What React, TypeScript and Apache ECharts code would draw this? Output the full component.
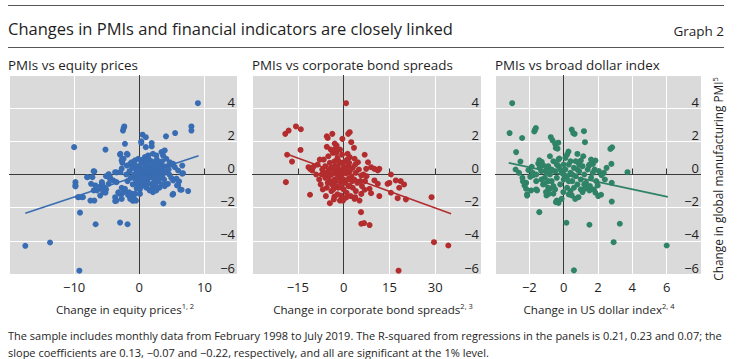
import React, { useEffect, useRef } from 'react';
import * as echarts from 'echarts';

const FONT = "'Open Sans', 'Noto Sans', sans-serif";

const yRange = [-6, 6, 2];
const xRanges = [
  [-20, 15, 10],
  [-30, 45, 15],
  [-4, 8, 2],
];

const panelTitles = ['PMIs vs equity prices', 'PMIs vs corporate bond spreads', 'PMIs vs broad dollar index'];
const xNames = ['Change in equity prices', 'Change in corporate bond spreads', 'Change in US dollar index'];
const xNameNotes = ['1, 2', '2, 3', '2, 4'];
const yName = 'Change in global manufacturing PMI';
const yNameNote = '5';
const colors = ['#386cb3', '#b32d2e', '#2f8366'];

const equityPoints: number[][] = [
  [9.0, 4.3], [8.0, 2.9], [8.0, 2.65], [5.5, 2.5], [4.1, 2.3], [-10, 1.65], [-5.2, 1.5],
  [-2.4, 2.8], [-2.3, 2.9], [-2.5, 2.65], [-2.2, 1.85], [0.5, 2.4], [1.0, 2.25], [0.3, 2.0], [0.3, 1.9], [1.9, 1.9], [1.9, 1.7], [1.0, 1.65],
  [-2.95, 1.2], [-1.8, 1.2], [-2.6, 0.95], [-2.6, 0.7],
  [-17.5, -4.3], [-13.7, -4.1], [-9.2, -5.8], [-6.7, -3.0], [-2.95, -2.9], [-1.8, -3.0], [-9.1, -2.3], [3.7, -1.75], [7.5, -1.0], [6.6, 0.05], [5.1, -1.22], [6.3, -0.92], [5.8, -0.66], [6.1, -0.42],
  [-9.8, -0.46], [-9.8, -0.72], [-9.4, -1.37], [-8.65, -1.37], [-6.9, -1.57], [-7.95, -0.16], [-7.2, -0.16], [-6.9, 0.18], [-7.4, -0.56], [-6.5, -0.96], [-6.0, -1.27], [-6.0, -0.73], [-5.7, -0.54], [-5.5, -0.74], [-5.1, -0.9], [-5.2, -1.1], [-5.1, -0.1], [-4.7, 0.02], [-4.5, -0.16], [-3.45, 0.12], [-3.7, -1.6], [-3.2, -1.1], [-2.95, -1.17], [-2.4, -1.07], [-2.7, -0.8], [-2.2, -1.0], [-1.7, -1.25], [-2.7, -1.47], [-1.4, -1.47], [-0.9, -1.57], [-1.2, -1.25], [-0.65, -1.17], [0.08, -0.9], [-0.4, -0.6], [1.1, -0.8], [1.6, -0.93], [2.1, -1.07], [2.6, -0.9], [3.1, -0.8], [3.9, -0.7], [4.4, -0.56], [5.2, -0.36], [5.7, -0.24],
  [-7.0, 0.2], [-3.7, 0.14], [-2.9, 0.14], [-2.7, 0.35],
  [-2.9, 1.25], [-1.9, 1.25], [-2.4, 0.95], [-2.7, 0.85], [-1.9, 0.54], [-1.4, 0.64], [-1.2, 0.74],
  [-0.66, 0.85], [-0.15, 0.95], [0.35, 0.85], [0.86, 1.05], [1.37, 1.15], [2.1, 1.25], [2.6, 1.15], [3.4, 1.35], [3.9, 1.45], [3.65, 1.15], [4.15, 0.95], [4.7, 0.74], [5.2, 0.64], [5.45, 0.44], [5.96, 0.24], [6.7, 0.08], [6.6, 0.54],
  [0.1, -0.46], [0.6, -0.66], [1.1, -0.76], [1.6, -0.96], [2.1, -0.86], [2.6, -0.96], [5.2, -1.17], [5.96, -0.66], [6.5, -0.92],
  [-1.55, -1.07], [-1.04, -1.17], [-0.8, -1.47], [-1.04, -1.57], [-0.5, -1.57], [-1.3, -1.37], [0.1, -1.17], [-0.4, -0.86], [-2.7, -1.17], [-3.2, -1.07], [-2.2, -0.86], [-3.5, -1.57], [-3.7, -1.37],
  [-5.5, -1.07], [-6.0, -0.86], [-7.0, -0.96], [-6.75, -0.66], [-5.75, -0.46], [-4.7, -0.56], [-4.5, -0.26], [-4.0, -0.36], [-3.5, -0.46],
  [-9.8, -0.66], [-9.3, -1.37], [-8.8, -1.37], [-7.5, -1.57], [-8.0, -0.16],
  [0.2, 0.1], [0.5, -0.2], [0.8, 0.3], [1.0, 0.0], [1.2, -0.3], [1.4, 0.5], [1.6, 0.2], [1.8, -0.1], [2.0, 0.4], [2.2, 0.0], [2.4, -0.4], [2.6, 0.3], [2.8, 0.6], [3.0, 0.1], [3.2, -0.2], [3.4, 0.4], [3.6, 0.0], [3.8, -0.3], [4.0, 0.2], [4.3, 0.5], [4.6, 0.0], [4.9, -0.2],
  [-0.5, 0.3], [-0.8, 0.0], [-0.3, -0.3], [0.0, 0.5], [0.3, 0.7], [0.6, 0.9], [1.1, 0.7], [1.5, 0.9], [1.9, 0.8], [2.3, 0.7], [2.7, 0.9], [3.1, 0.7], [3.5, 0.8], [4.1, -0.6], [3.4, -0.6], [2.9, -0.4], [2.5, -0.7], [1.9, -0.6], [1.3, -0.5], [0.7, -0.5], [0.3, -0.7], [-0.2, -0.5], [-0.6, -0.3], [-1.0, -0.6], [-1.3, -0.2], [-1.5, 0.2], [-1.8, -0.4], [-2.0, 0.0], [-1.1, 0.4], [-0.7, 0.6],
  [0.9, 0.5], [1.3, 0.2], [1.7, 0.5], [2.1, -0.2], [2.5, 0.1], [2.9, -0.1], [3.3, 0.2], [3.7, 0.5], [4.5, 0.3], [4.8, 0.6], [0.4, 0.3], [1.0, -0.2], [1.5, -0.2], [2.0, 0.2], [2.4, 0.5], [3.0, 0.4], [3.5, -0.1], [0.0, -0.1], [-0.4, 0.1], [0.6, 0.1], [1.8, 0.3], [2.2, -0.5], [2.7, -0.2], [1.1, 0.2],
];
const equityFit = [[-17.5, -2.33], [9.1, 1.13]];

const bondPoints: number[][] = [
  [0.8, 4.3], [-19.1, 2.45], [-18.0, 2.65], [-15.6, 2.9], [-14.0, 2.73], [-14.1, 1.48], [-18.5, 1.19], [-16.9, 0.78], [-18.9, -0.46], [-11.0, -1.22], [-11.5, 0.44], [-11.0, 0.34], [-10.3, 0.24], [-9.8, 0.48],
  [-5.5, 2.3], [-5.2, 2.2], [-3.7, 2.45], [-5.5, 1.67], [-2.9, 1.87], [-2.3, 1.74], [-2.6, 1.57], [-0.4, 2.15], [1.5, 2.45], [2.0, 2.55], [2.5, 1.95], [3.4, 1.61],
  [1.3, 1.25], [2.0, 1.05], [3.6, 0.95], [4.7, 0.74], [6.9, 1.19], [8.0, 0.74],
  [5.8, -0.06], [7.4, 0.34], [9.0, 0.44], [10.1, 0.34], [11.2, 0.24], [11.7, 0.34], [15.5, 0.0],
  [14.4, -0.56], [15.0, -0.5], [17.1, -0.36], [18.7, -0.4], [19.8, -0.6], [18.2, -0.8],
  [11.7, -1.3], [15.5, -1.1], [17.7, -1.43], [20.4, -1.5],
  [6.9, -0.92], [9.0, -1.13], [11.2, -0.56], [8.5, -0.86], [10.1, -0.36],
  [3.6, -1.47], [5.2, -1.57], [3.8, -1.37], [5.8, -1.17],
  [-1.2, -1.57], [-0.2, -1.57], [-0.9, -1.27], [-4.5, -1.73], [-3.0, -1.33],
  [5.7, -2.27], [5.8, -2.97], [6.7, -2.93], [8.5, -3.05], [28.8, -1.37], [29.6, -4.08], [34.3, -4.28], [18.0, -5.8],
  [-9, 0.0], [-8, -0.3], [-8.5, 0.6], [-7, 0.3], [-7.5, -0.6], [-6.5, 0.9], [-6, -0.2], [-6, 0.5], [-5.5, -0.8], [-5, 0.2], [-5, 1.1], [-4.5, -0.4], [-4.5, 0.7], [-4, 0.0], [-4, -1.0], [-3.5, 0.4], [-3.5, 1.3], [-3, -0.3], [-3, 0.8], [-2.5, 0.1], [-2.5, -0.7], [-2, 0.5], [-2, 1.0], [-2, -1.2], [-1.5, -0.2], [-1.5, 0.3], [-1, 0.7], [-1, -0.5], [-0.5, 0.1], [-0.5, 1.2], [0, -0.3], [0, 0.4], [0, -0.9], [0.5, 0.8], [0.5, -0.5], [1, 0.1], [1, -1.1], [1.5, 0.5], [1.5, -0.3], [2, -0.7], [2, 0.2], [2.5, -0.1], [3, 0.4], [3, -0.8], [3.5, -0.3], [4, 0.1], [4, -1.0], [4.5, -0.5], [5, 0.3], [5.5, -0.4], [6, -0.7], [6.5, 0.0], [7, -0.4], [7.5, -0.1],
  [-3.8, -0.6], [-2.8, 0.5], [-1.8, -0.8], [-0.8, -0.1], [0.2, 0.2], [1.2, 0.9], [-4.2, 1.5], [-6.8, -0.9], [-7.8, 0.9], [-1.2, 1.5], [0.8, -1.4], [2.3, -1.3], [-5.8, -1.3], [-3.2, -1.5], [-2.2, 0.0], [-1.0, 0.2], [-3.0, 0.2], [-4.8, -0.1], [1.8, 0.7], [-0.2, 0.7], [3.8, 0.6],
  [-6.2, 0.1], [-5.2, -0.5], [-4.2, 0.4], [-3.4, -0.9], [-2.6, -0.4], [-1.6, 0.8], [-0.6, -0.8], [0.6, 0.4], [-7.2, 0.0], [-2.4, 1.3], [1.6, -0.7], [2.8, -0.4],
];
const bondFit = [[-19.1, 1.27], [35.2, -2.37]];

const dollarPoints: number[][] = [
  [-3.0, 4.3], [-3.15, 2.5], [-2.42, 2.2], [-1.71, 2.6], [-1.62, 2.8], [-1.67, 2.7], [-2.77, 1.35], [-2.52, 0.78], [-2.8, 0.3],
  [-0.75, 2.25], [-0.65, 2.06], [-0.5, 1.86], [-0.31, 1.92], [-0.46, 1.6],
  [0.47, 2.71], [0.64, 2.45], [0.56, 2.5], [1.18, 2.61], [1.24, 1.95],
  [0.28, 1.38], [0.8, 1.24], [1.14, 1.1], [1.0, 0.84], [1.85, 0.84], [1.7, 0.64], [1.48, 0.54],
  [2.72, 1.54], [2.82, 1.64], [2.78, 0.64], [3.72, 0.14], [2.34, 0.1], [2.2, -0.04], [2.05, 0.2],
  [2.8, -0.5], [2.8, -1.63], [1.85, -1.1], [2.18, -1.22], [1.98, -0.66], [1.5, -0.96],
  [-1.42, -2.27], [0.16, -2.91], [1.5, -3.03], [3.27, -2.97], [6.0, -4.28], [2.91, -4.08], [0.6, -5.78],
  [-2.13, -1.2], [-1.9, -0.96], [-1.6, -0.9], [-2.28, -0.66], [-2.37, -0.42], [-2.18, -0.5],
  [-1.95, -0.14], [-1.77, -0.04], [-2.05, 0.26], [-1.86, 0.46], [-1.48, 0.66], [-1.28, 0.76], [-1.42, 0.86], [-1.2, 0.56], [-1.0, 0.36],
  [-1.1, -0.56], [-0.8, -0.86], [-0.6, -1.16], [-0.4, -1.57], [-0.3, -1.71], [-0.12, -1.47], [-0.02, -1.06],
  [0.47, -1.26], [0.67, -1.47], [0.86, -1.37], [1.1, -1.06], [1.24, -0.86], [-1.0, -1.26], [-0.85, -1.16], [-0.45, -1.67],
  [-2.19, -0.86], [-2.13, -1.27], [-1.55, -0.96], [-1.03, -1.06], [1.28, -0.8], [1.53, -0.7], [1.76, -0.9], [2.01, -1.3], [-0.36, 1.56], [-0.26, 0.96],
  [-1.3, 0.2], [-1.1, -0.2], [-0.9, 0.5], [-0.8, 0.0], [-0.7, -0.4], [-0.6, 0.8], [-0.5, 0.2], [-0.4, -0.2], [-0.3, 0.5], [-0.2, -0.6], [-0.1, 0.1], [0.0, 0.6], [0.0, -0.3], [0.1, 0.3], [0.2, -0.1], [0.2, -0.8], [0.3, 0.6], [0.4, 0.1], [0.5, -0.4], [0.6, 0.4], [0.7, -0.1], [0.8, -0.6], [0.9, 0.2], [1.0, -0.3], [1.1, 0.5], [1.2, 0.0], [1.3, -0.5], [1.4, 0.3], [1.6, -0.2], [1.7, 0.1], [1.9, -0.4],
  [-1.2, -0.6], [-0.9, -0.8], [-0.6, -0.7], [-0.3, 0.9], [0.1, 1.0], [0.4, -1.0], [0.7, 0.8], [1.0, -0.9], [-1.6, 0.0], [-1.4, 0.4], [-0.2, 0.3], [0.3, -0.4], [0.6, -0.8], [-0.4, 0.6], [0.9, 0.6], [1.5, 0.6], [-0.7, 0.3], [-1.0, 0.1], [0.5, 0.0], [0.0, 0.0], [-0.5, -0.9], [1.2, -0.6], [1.8, 0.3], [-0.8, 1.1], [0.2, 1.2], [-1.6, -0.4], [0.8, 0.3],
  [-2.6, 0.1], [-2.4, -0.2], [-1.8, 0.1], [-1.3, -0.3], [0.4, 0.8], [1.6, 0.9], [2.4, -0.3], [2.5, 0.4], [-0.9, -0.4], [0.3, -1.2],
];
const dollarFit = [[-3.2, 0.7], [6.07, -1.35]];

const footnote1 = 'The sample includes monthly data from February 1998 to July 2019. The R-squared from regressions in the panels is 0.21, 0.23 and 0.07; the';
const footnote2 = 'slope coefficients are 0.13, \u22120.07 and \u22120.22, respectively, and all are significant at the 1% level.';

const grids = [
  { left: 9, top: 75, width: 228, height: 199 },
  { left: 252, top: 75, width: 229, height: 199 },
  { left: 495, top: 75, width: 206, height: 199 },
];

const fmt = (v: number) => (v < 0 ? '\u2212' + Math.abs(v) : String(v));

export default function App() {
  const ref = useRef<HTMLDivElement>(null);
  useEffect(() => {
    document.body.style.margin = '0';
    const chart = echarts.init(ref.current!, undefined, { renderer: 'svg' });
    const pointSets = [equityPoints, bondPoints, dollarPoints];
    const fits = [equityFit, bondFit, dollarFit];
    const textColor = '#1e1e1e';
    const nameCenters = [125, 373, 599];
    const series: any[] = [];
    pointSets.forEach((pts, i) => {
      series.push({
        type: 'scatter',
        xAxisIndex: i,
        yAxisIndex: i,
        data: pts,
        symbolSize: 6,
        itemStyle: { color: colors[i], opacity: 1 },
        z: 3,
        silent: true,
        markLine: {
          silent: true,
          symbol: ['none', 'none'],
          z: 1,
          label: { show: false },
          lineStyle: { color: '#3a3a3a', width: 1, type: 'solid' },
          data: [{ xAxis: 0 }, { yAxis: 0 }],
        },
      });
      series.push({
        type: 'line',
        xAxisIndex: i,
        yAxisIndex: i,
        data: fits[i],
        showSymbol: false,
        symbol: 'none',
        lineStyle: { color: colors[i], width: 1.6 },
        z: 4,
        silent: true,
      });
    });
    const richNote = (size: number) => ({
      a: { fontSize: size, fontFamily: FONT, fill: textColor, lineHeight: 15 },
      s: { fontSize: 7.5, fontFamily: FONT, fill: textColor, verticalAlign: 'top', lineHeight: 8 },
    });
    const option: any = {
      animation: false,
      grid: grids.map((g) => ({ ...g, show: true, backgroundColor: '#dadada', borderWidth: 0, containLabel: false })),
      xAxis: xRanges.map((r, i) => ({
        type: 'value',
        gridIndex: i,
        min: r[0],
        max: r[1],
        interval: r[2],
        axisLine: { show: false },
        axisTick: { show: true, inside: true, length: 6, lineStyle: { color: '#333', width: 1 } },
        axisLabel: { show: true, margin: 6, fontSize: 13, color: textColor, fontFamily: FONT, showMinLabel: false, showMaxLabel: false, formatter: fmt },
        splitLine: { show: true, lineStyle: { color: '#ffffff', width: 1 } },
      })),
      yAxis: xRanges.map((_, i) => ({
        type: 'value',
        gridIndex: i,
        position: 'right',
        min: yRange[0],
        max: yRange[1],
        interval: yRange[2],
        axisLine: { show: false },
        axisTick: { show: false },
        axisLabel: {
          show: true,
          inside: true,
          margin: 2,
          fontSize: 13,
          color: textColor,
          fontFamily: FONT,
          verticalAlign: 'bottom',
          showMaxLabel: false,
          formatter: (v: number) => (v === yRange[1] ? '' : fmt(v)),
        },
        splitLine: { show: true, lineStyle: { color: '#ffffff', width: 1 } },
      })),
      series,
      graphic: [
        { type: 'line', shape: { x1: 8, y1: 5.5, x2: 724, y2: 5.5 }, style: { stroke: '#555', lineWidth: 1 }, silent: true },
        { type: 'line', shape: { x1: 8, y1: 47.5, x2: 724, y2: 47.5 }, style: { stroke: '#555', lineWidth: 1 }, silent: true },
        { type: 'text', x: 8, y: 28, style: { text: 'Changes in PMIs and financial indicators are closely linked', fontSize: 16.5, fontFamily: FONT, fill: textColor, verticalAlign: 'middle', align: 'left' } },
        { type: 'text', x: 724, y: 31, style: { text: 'Graph 2', fontSize: 13.5, fontFamily: FONT, fill: textColor, verticalAlign: 'middle', align: 'right' } },
        ...panelTitles.map((t, i) => ({
          type: 'text', x: [8, 252, 495][i], y: 65,
          style: { text: t, fontSize: 13.4, fontFamily: FONT, fill: textColor, verticalAlign: 'middle', align: 'left' },
        })),
        ...xNames.map((t, i) => ({
          type: 'text', x: nameCenters[i], y: 309,
          style: {
            text: '{a|' + t + '}{s|' + xNameNotes[i] + '}',
            align: 'center', verticalAlign: 'middle', fontFamily: FONT, fill: textColor,
            rich: richNote(11.6),
          },
        })),
        {
          type: 'text', x: 718, y: 179, rotation: Math.PI / 2,
          style: {
            text: '{a|' + yName + '}{s|' + yNameNote + '}',
            align: 'center', verticalAlign: 'middle', fontFamily: FONT, fill: textColor,
            rich: richNote(11.8),
          },
        },
        { type: 'text', x: 8, y: 335, style: { text: footnote1, fontSize: 11, fontFamily: FONT, fill: textColor, verticalAlign: 'middle', align: 'left' } },
        { type: 'text', x: 8, y: 352, style: { text: footnote2, fontSize: 11, fontFamily: FONT, fill: textColor, verticalAlign: 'middle', align: 'left' } },
      ],
    };
    chart.setOption(option);
    return () => chart.dispose();
  }, []);
  return <div ref={ref} style={{ width: 740, height: 359, position: 'absolute', left: 0, top: 0, background: '#fff' }} />;
}
